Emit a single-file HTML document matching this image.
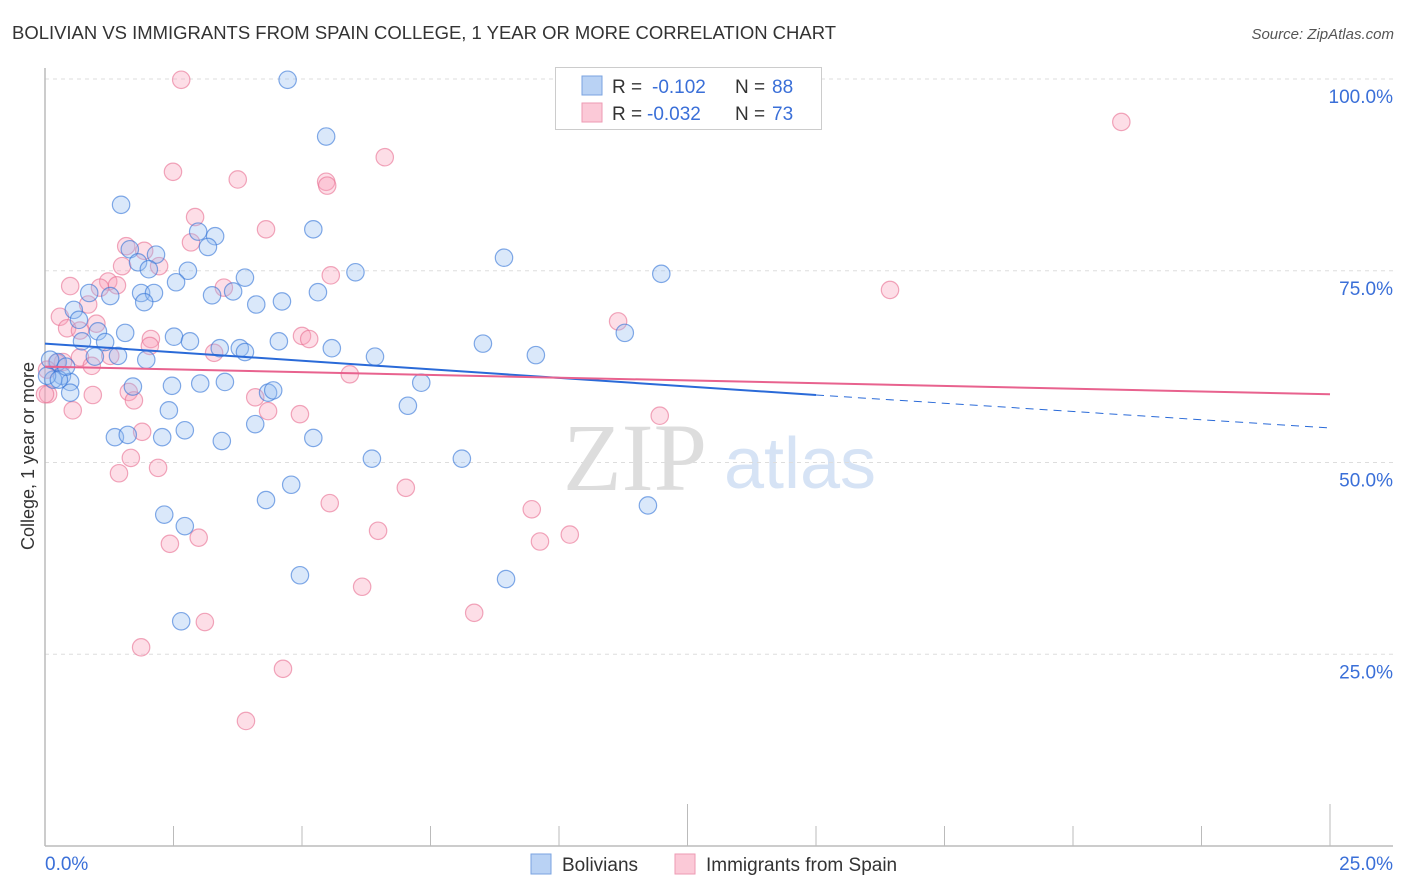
<!DOCTYPE html>
<html><head><meta charset="utf-8">
<style>
body{margin:0;background:#fff;font-family:"Liberation Sans",sans-serif;}
#wrap{position:relative;width:1406px;height:892px;overflow:hidden;}
</style></head>
<body>
<div id="wrap">
<svg id="svg" width="1406" height="892" xmlns="http://www.w3.org/2000/svg">
<text x="12" y="39" font-size="18.5" fill="#333" textLength="824" lengthAdjust="spacingAndGlyphs">BOLIVIAN VS IMMIGRANTS FROM SPAIN COLLEGE, 1 YEAR OR MORE CORRELATION CHART</text>
<text x="1394" y="39" font-size="15" fill="#555" font-style="italic" text-anchor="end">Source: ZipAtlas.com</text>
<text transform="translate(34,456) rotate(-90)" font-size="18" fill="#333" text-anchor="middle">College, 1 year or more</text>
<g>
<text x="635" y="490" font-size="96" fill="#ddd" font-family="Liberation Serif,serif" text-anchor="middle">ZIP</text>
<text x="800" y="488" font-size="72" fill="#d6e3f5" text-anchor="middle">atlas</text>
</g>
<g id="grid"></g>
<g id="axes"></g>
<g id="pts"></g>
<g id="trend"></g>
<g>
<rect x="555.5" y="67.5" width="266" height="62" fill="#fff" stroke="#ccc"/>
<rect x="582" y="76" width="20" height="19" fill="#b9d2f4" stroke="#7aa3e0"/>
<rect x="582" y="103" width="20" height="19" fill="#fbc9d7" stroke="#ee9ab3"/>
<g font-size="19" fill="#333">
<text x="612" y="93">R =</text><text x="652" y="93" fill="#3a6fd8">-0.102</text><text x="735" y="93">N =</text><text x="772" y="93" fill="#3a6fd8">88</text></g>
<g font-size="19" fill="#333">
<text x="612" y="120">R =</text><text x="647" y="120" fill="#3a6fd8">-0.032</text><text x="735" y="120">N =</text><text x="772" y="120" fill="#3a6fd8">73</text></g>
</g>
<g>
<rect x="531" y="854" width="20" height="20" fill="#b9d2f4" stroke="#7aa3e0"/>
<text x="562" y="871" font-size="19" fill="#333">Bolivians</text>
<rect x="675" y="854" width="20" height="20" fill="#fbc9d7" stroke="#ee9ab3"/>
<text x="706" y="871" font-size="19" fill="#333">Immigrants from Spain</text>
</g>
</svg>
</div>
<script>
const yTicks=[25,50,75,100];
const yTickLabels=["25.0%","50.0%","75.0%","100.0%"];
const xTicks=[0,2.5,5,7.5,10,12.5,15,17.5,20,22.5,25];
const xTickLabels=["0.0%","25.0%"];
const bolX=[4.72,5.47,1.48,5.22,2.98,3.31,3.17,1.65,2.16,1.81,2.02,2.78,8.93,11.99,6.04,3.89,2.55,0.86,1.27,1.87,2.12,3.25,3.66,4.11,4.61,5.31,0.56,1.93,0.66,1.56,1.03,0.72,1.17,2.51,2.82,4.55,8.52,11.28,3.4,3.79,3.89,5.58,6.42,9.55,0.97,1.42,1.97,0.25,0.33,0.49,0.16,0.04,1.71,2.47,3.02,3.5,4.34,4.44,7.32,0.49,2.41,7.06,1.36,1.61,2.28,2.72,3.44,4.09,5.22,6.36,8.11,4.3,4.79,2.32,2.72,11.73,4.96,8.97,2.65,0.27,0.1,0.41];
const bolY=[99.9,92.5,83.6,80.4,80.1,79.5,78.1,77.8,77.1,76.1,75.2,75,76.7,74.6,74.8,74.1,73.5,72.1,71.7,72.1,72.1,71.8,72.3,70.6,71,72.2,69.9,70.9,68.6,66.9,67.1,65.8,65.7,66.4,65.8,65.8,65.5,66.9,64.9,64.9,64.4,64.9,63.8,64,63.8,63.9,63.4,63.1,61.3,60.5,60.8,61.3,59.9,60,60.3,60.5,59.1,59.4,60.4,59.1,56.8,57.4,53.3,53.6,53.3,54.2,52.8,55,53.2,50.5,50.5,45.1,47.1,43.2,41.7,44.4,35.3,34.8,29.3,60.8,63.4,62.5];
const spX=[2.65,20.94,6.61,5.47,5.49,2.49,3.75,2.92,4.3,2.84,1.58,1.93,2.22,1.5,1.23,1.4,1.07,3.48,5.56,0.49,16.44,0.84,0.29,0.43,1.0,0.68,2.06,2.04,5.0,5.14,3.29,11.15,0.68,1.27,0.35,0.23,0.91,0.04,0.06,5.93,1.63,1.73,0.93,0.54,4.09,4.34,4.96,11.96,1.89,1.67,2.2,1.44,7.02,5.54,9.47,6.48,9.63,10.21,2.43,2.99,6.17,8.35,3.11,1.87,4.63,3.91,0.0];
const spY=[99.9,94.4,89.8,86.6,86.1,87.9,86.9,82,80.4,78.7,78.2,77.6,75.6,75.6,73.6,73.1,72.8,72.8,74.4,73,72.5,70.6,69,67.5,68.1,67.2,66.1,65.2,66.5,66.1,64.3,68.4,63.7,63.9,63.1,63,62.6,62.1,58.9,61.5,59.2,58.1,58.8,56.8,58.5,56.7,56.3,56.1,54,50.6,49.3,48.6,46.7,44.7,43.9,41.1,39.7,40.6,39.4,40.2,33.8,30.4,29.2,25.9,23.1,16.3,58.9];
const bolTrend=[65.5,58.8,54.5];
const spTrend=[62.5,58.9];
const NS="http://www.w3.org/2000/svg";
const X0=45,X1=1330,Y0=846,Y1=79;
function sx(v){return X0+(X1-X0)*v/25;}
function sy(v){return Y0-(Y0-Y1)*v/100;}
function mk(tag,attrs,parent){const e=document.createElementNS(NS,tag);for(const k in attrs)e.setAttribute(k,attrs[k]);document.getElementById(parent).appendChild(e);return e;}
yTicks.forEach((t,i)=>{
  const g=mk('line',{x1:X0,x2:1393,y1:sy(t),y2:sy(t),stroke:'#ddd','stroke-dasharray':'4,4'},'grid');
  
  
  const l=mk('text',{x:1393,y:sy(t)+24,'font-size':19,fill:'#3a6fd8','text-anchor':'end'},'axes');
  l.textContent=yTickLabels[i];
  
  
});
const ax=mk('line',{x1:X0,x2:1393,y1:Y0,y2:Y0,stroke:'#bbb','stroke-width':1.5},'axes');


const ay=mk('line',{x1:X0,x2:X0,y1:68,y2:Y0,stroke:'#bbb','stroke-width':1.5},'axes');


xTicks.forEach((t,i)=>{
  const long=(i==5||i==10);
  const tk=mk('line',{x1:sx(t),x2:sx(t),y1:long?804:826,y2:Y0,stroke:'#bbb'},'axes');
  
  
});
const xl0=mk('text',{x:45,y:870,'font-size':19,fill:'#3a6fd8'},'axes');xl0.textContent=xTickLabels[0];


const xl1=mk('text',{x:1393,y:870,'font-size':19,fill:'#3a6fd8','text-anchor':'end'},'axes');xl1.textContent=xTickLabels[1];


spX.forEach((v,i)=>{
  const c=mk('circle',{cx:sx(v),cy:sy(spY[i]),r:8.7,fill:'rgba(248,160,185,0.35)',stroke:'rgba(232,110,145,0.6)','stroke-width':1.2},'pts');
  
  
});
bolX.forEach((v,i)=>{
  const c=mk('circle',{cx:sx(v),cy:sy(bolY[i]),r:8.7,fill:'rgba(150,190,240,0.35)',stroke:'rgba(50,115,215,0.6)','stroke-width':1.2},'pts');
  
  
});
const b1=mk('line',{x1:sx(0),y1:sy(bolTrend[0]),x2:sx(15),y2:sy(bolTrend[1]),stroke:'#2a6ad8','stroke-width':2},'trend');


const b2=mk('line',{x1:sx(15),y1:sy(bolTrend[1]),x2:sx(25),y2:sy(bolTrend[2]),stroke:'#2a6ad8','stroke-width':1,'stroke-dasharray':'8,6'},'trend');


const p1=mk('line',{x1:sx(0),y1:sy(spTrend[0]),x2:sx(25),y2:sy(spTrend[1]),stroke:'#e8628e','stroke-width':2},'trend');


</script>
</body></html>
